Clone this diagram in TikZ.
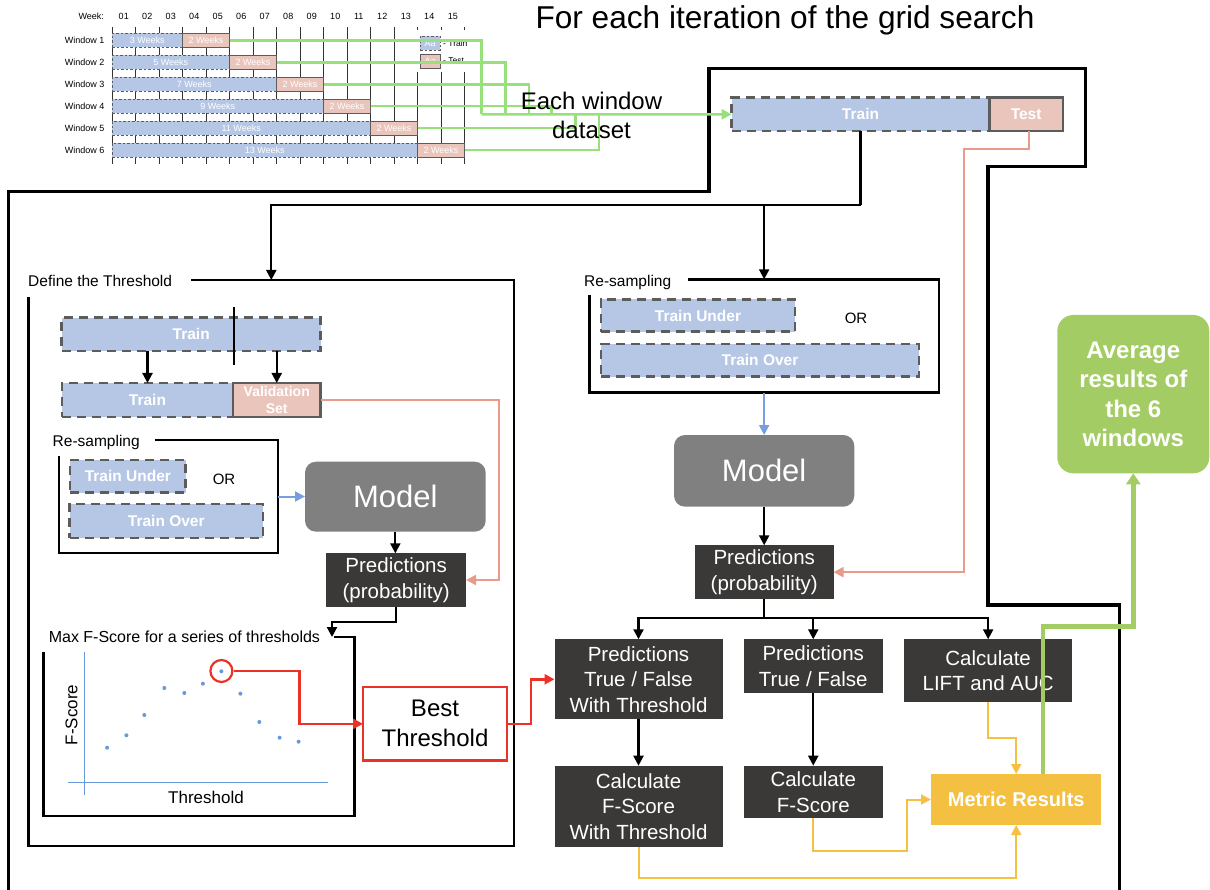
\documentclass[tikz,border=0pt]{standalone}
\usepackage{fontspec}
\setmainfont{Liberation Sans}
\usetikzlibrary{arrows.meta,calc}

\definecolor{trainblue}{RGB}{182,199,229}
\definecolor{testpink}{RGB}{234,197,188}
\definecolor{edgegray}{RGB}{92,92,92}
\definecolor{boxdark}{RGB}{59,56,56}
\definecolor{modelgray}{RGB}{128,128,128}
\definecolor{metricgold}{RGB}{244,192,66}
\definecolor{avggreen}{RGB}{163,205,100}
\definecolor{linkgreen}{RGB}{152,224,124}
\definecolor{salmonline}{RGB}{232,155,136}
\definecolor{flowblue}{RGB}{118,158,224}
\definecolor{plotblue}{RGB}{104,153,216}
\definecolor{alertred}{RGB}{234,51,38}
\definecolor{goldline}{RGB}{246,192,66}

\newcommand{\fsz}[2]{\fontsize{#1}{#2}\selectfont}

\tikzset{
  cornerbox/.style={inner sep=0pt, outer sep=0pt, anchor=north west},
  frameregion/.style={cornerbox, draw=none},
  weekbar/.style={cornerbox, line width=0.8pt, draw=edgegray, text=white, font=\fsz{9}{10}},
  trainbar/.style={weekbar, fill=trainblue, dash pattern=on 2.5pt off 2pt},
  testbar/.style={weekbar, fill=testpink},
  setbox/.style={cornerbox, line width=2.8pt, draw=edgegray, text=white, font=\bfseries\fsz{15.5}{17}, align=center},
  trainbox/.style={setbox, fill=trainblue, dash pattern=on 9pt off 6pt},
  testbox/.style={setbox, fill=testpink},
  darkstep/.style={cornerbox, fill=boxdark, text=white, font=\fsz{20.5}{25.5}, align=center},
  modelbox/.style={cornerbox, fill=modelgray, rounded corners=11pt, text=white, font=\fsz{31}{36}},
  sidelabel/.style={inner sep=0pt, anchor=base west, font=\fsz{15.5}{18}},
  plaintext/.style={inner sep=0pt},
  boxframe/.style={line width=2.6pt, line join=miter},
  headtip/.style={-{Triangle[length=10pt,width=10pt]}},
  conn/.style={line width=2.1pt, headtip},
  plainline/.style={line width=2.1pt},
  salmonarrow/.style={draw=salmonline, line width=2pt, headtip},
  bluearrow/.style={draw=flowblue, line width=2pt, headtip},
  redarrow/.style={draw=alertred, line width=2.6pt, headtip},
  goldarrow/.style={draw=goldline, line width=2pt, headtip},
  linkline/.style={draw=linkgreen, line width=2.6pt},
}

\begin{document}
\begin{tikzpicture}[x=1pt,y=-1pt]
\useasboundingbox (0,0) rectangle (1210,890);

% ---------- title ----------
\node[plaintext, font=\fsz{31.6}{36}] (title) at (785,20) {For each iteration of the grid search};

% ---------- sliding window table ----------
\node[plaintext, font=\fsz{9}{10}] (weekhead) at (91.3,16) {Week:};
\foreach \k in {1,...,15}{
  \node[plaintext, font=\fsz{9}{10}] (wk\k) at ({112+(\k-0.5)*23.5},16) {\ifnum\k<10 0\fi\k};
}
\foreach \k in {0,...,15}{
  \draw[line width=1pt, black!80] ({112+\k*23.5},27) -- ({112+\k*23.5},164);
}
\foreach \i in {1,...,6}{
  \pgfmathsetmacro{\rowtop}{33.5+(\i-1)*21.9}
  \pgfmathsetmacro{\trw}{(2*\i+1)*23.5}
  \pgfmathtruncatemacro{\nweeks}{2*\i+1}
  \node[plaintext, font=\fsz{9}{10}] (wlab\i) at (84.7,\rowtop+7) {Window \i};
  \node[trainbar, minimum width=\trw pt, minimum height=14pt] (wtr\i) at (112,\rowtop) {\nweeks\ Weeks};
  \node[testbar, minimum width=47pt, minimum height=14pt] (wts\i) at (112+\trw,\rowtop) {2 Weeks};
}

% legend
\fill[white] (413,30) rectangle (472,72);
\node[trainbar, minimum width=20pt, minimum height=14pt] (legtrain) at (420,36) {Aa};
\node[testbar, minimum width=20pt, minimum height=14pt] (legtest) at (420,54) {Aa};
\node[plaintext, anchor=west, font=\fsz{8.5}{10}] (legtrainlbl) at (443,43) {- Train};
\node[plaintext, anchor=west, font=\fsz{8.5}{10}] (legtestlbl) at (443,61) {- Test};

% ---------- outer loop frame ----------
\draw[line width=3.2pt, line join=miter] (8.5,890) -- (8.5,191.7) -- (709,191.7) -- (709,68.3)
  -- (1085.7,68.3) -- (1085.7,166.7) -- (988,166.7) -- (988,605) -- (1119.8,605) -- (1119.8,890);

% ---------- dataset of one window ----------
\node[trainbox, minimum width=257.6pt, minimum height=33.3pt] (bigtrain) at (731.7,97.7) {Train};
\node[testbox, minimum width=73.7pt, minimum height=33.3pt] (bigtest) at (989.3,97.7) {Test};

% window links
\coordinate (hub) at (481.7,114.35);
\foreach \i/\cx in {1/481.7,2/505.7,3/529,4/551.7,5/575.7,6/599}{
  \draw[linkline] (wts\i.east) -| (\cx,114.35);
}
\draw[linkline, headtip] (hub) -- (bigtrain.west);
\node[plaintext, font=\fsz{24}{29}, align=center] (eachwin) at (591.5,115) {Each window\\dataset};

% ---------- regions ----------
\node[frameregion, minimum width=485.4pt, minimum height=566pt] (defbox) at (28.6,280) {};
\draw[boxframe] ([xshift=162.4pt]defbox.north west) -- (defbox.north east) -- (defbox.south east)
  -- (defbox.south west) -- ([yshift=-16.7pt]defbox.north west);
\node[sidelabel] (deflbl) at (28,286.5) {Define the Threshold};

\node[frameregion, minimum width=219pt, minimum height=113pt] (rsL) at (59,440) {};
\draw[boxframe] ([xshift=95.6pt]rsL.north west) -- (rsL.north east) -- (rsL.south east)
  -- (rsL.south west) -- ([yshift=-16pt]rsL.north west);
\node[sidelabel] (rsLlbl) at (52.5,446.2) {Re-sampling};

\node[frameregion, minimum width=349.7pt, minimum height=113.4pt] (rsR) at (589.3,279.3) {};
\draw[boxframe] ([xshift=98.4pt]rsR.north west) -- (rsR.north east) -- (rsR.south east)
  -- (rsR.south west) -- ([yshift=-15.7pt]rsR.north west);
\node[sidelabel] (rsRlbl) at (584,286.2) {Re-sampling};

\node[frameregion, minimum width=311pt, minimum height=179pt] (fbox) at (43.6,637) {};
\draw[boxframe] ([xshift=290.4pt]fbox.north west) -- (fbox.north east) -- (fbox.south east)
  -- (fbox.south west) -- ([yshift=-14.7pt]fbox.north west);
\node[sidelabel, font=\fsz{16}{18}] (fboxlbl) at (48.6,642.5) {Max F-Score for a series of thresholds};

% ---------- threshold branch ----------
\node[trainbox, minimum width=258.9pt, minimum height=33.3pt] (trainA) at (61.8,317.7) {Train};
\node[trainbox, minimum width=171pt, minimum height=34pt] (trainB) at (62,383) {Train};
\node[testbox, font=\bfseries\fsz{14}{16.7}, minimum width=87.5pt, minimum height=34pt] (valset) at (233,383) {Validation\\Set};
\draw[line width=2.5pt] (234,306.7) -- (234,365);
\draw[conn] (trainA.south -| trainB.north) -- (trainB.north);
\draw[conn] (trainA.south -| valset.north) -- (valset.north);

\node[trainbox, minimum width=115.7pt, minimum height=32.7pt] (underL) at (70,460) {Train Under};
\node[trainbox, minimum width=193.4pt, minimum height=34pt] (overL) at (69.6,504) {Train Over};
\node[plaintext, font=\fsz{15}{18}] (orL) at (224,479) {OR};

\node[modelbox, minimum width=180.7pt, minimum height=70pt] (modelL) at (305,461.7) {Model};
\node[darkstep, minimum width=139.6pt, minimum height=53.4pt] (predL) at (326.4,553.3) {Predictions\\(probability)};

\draw[bluearrow] (rsL.east) -- (rsL.east -| modelL.west);
\draw[conn] (modelL.south) -- (modelL.south |- predL.north);
\draw[salmonarrow] (valset.east) -- ++(178,0) |- (predL.east);
\draw[conn] (predL.south) -- ++(0,15) -| ([xshift=-22.6pt]fbox.north east);

% F-score curve
\draw[plotblue, line width=1.3pt] (84.6,652) -- (84.6,795);
\draw[plotblue, line width=1.3pt] (67.9,782.7) -- (327.5,782.7);
\foreach \px/\py in {107.1/747.7,126.4/735.3,144.3/715,164.3/688,184.3/693,202.9/683.7,221.4/671.3,240.4/693.7,259.3/722,279.6/737.7,298.6/741.7}{
  \fill[plotblue] (\px,\py) circle (2pt);
}
\node[draw=alertred, circle, line width=2.2pt, inner sep=0pt, minimum size=22pt] (peak) at (221.4,671) {};
\node[plaintext, rotate=90, font=\fsz{17}{20}] (fscore) at (71.4,715) {F-Score};
\node[plaintext, font=\fsz{17}{20}] (thrlbl) at (206,797.7) {Threshold};

\node[cornerbox, draw=alertred, line width=2.6pt, font=\fsz{24}{30}, align=center, minimum width=144pt, minimum height=73.7pt] (best) at (363,687) {Best\\Threshold};
\draw[redarrow] (peak.east) -- ++(66,0) |- (best.west);

% ---------- evaluation branch ----------
\node[trainbox, minimum width=194pt, minimum height=32.4pt] (underR) at (601,299.3) {Train Under};
\node[trainbox, minimum width=318pt, minimum height=32.7pt] (overR) at (601,344) {Train Over};
\node[plaintext, font=\fsz{15}{18}] (orR) at (856,318.3) {OR};

\node[modelbox, minimum width=180.3pt, minimum height=71.7pt] (modelR) at (674,435) {Model};
\node[darkstep, minimum width=138.5pt, minimum height=53.7pt] (predR) at (695,545.3) {Predictions\\(probability)};

\node[darkstep, minimum width=168pt, minimum height=80pt] (pwt) at (554.5,639.3) {Predictions\\True / False\\With Threshold};
\node[darkstep, minimum width=138.5pt, minimum height=54pt] (ptf) at (744,639.3) {Predictions\\True / False};
\node[darkstep, minimum width=167.7pt, minimum height=62.4pt] (lift) at (904.3,639.3) {Calculate\\LIFT and AUC};
\node[darkstep, minimum width=168pt, minimum height=81pt] (cfwt) at (554.5,765.7) {Calculate\\F-Score\\With Threshold};
\node[darkstep, minimum width=138.5pt, minimum height=52.6pt] (cf) at (744,765.7) {Calculate\\F-Score};
\node[cornerbox, fill=metricgold, text=white, font=\bfseries\fsz{20}{24}, minimum width=170.4pt, minimum height=51pt] (metric) at (931,774) {Metric Results};
\node[cornerbox, fill=avggreen, rounded corners=16pt, text=white, font=\bfseries\fsz{24}{29.5}, align=center, minimum width=152pt, minimum height=158.3pt] (avg) at (1057.3,315) {Average\\results of\\the 6\\windows};

% split of the training data
\coordinate (split) at ($(bigtrain.south)+(0,74)$);
\draw[plainline] (bigtrain.south) -- (split);
\draw[conn] (split) -| (defbox.north);
\draw[conn] (split -| rsR.north) -- (rsR.north);
\draw[salmonarrow] ([xshift=3pt]bigtest.south) -- ++(0,18.3) -| ([xshift=130.5pt]predR.east) -- (predR.east);

\draw[bluearrow] (rsR.south) -- (rsR.south |- modelR.north);
\draw[conn] (modelR.south) -- (modelR.south |- predR.north);
\draw[conn] (predR.south) -- ++(0,19.3) -| (pwt.north);
\draw[conn] (predR.south) -- ++(0,19.3) -| (ptf.north);
\draw[conn] (predR.south) -- ++(0,19.3) -| (lift.north);
\draw[redarrow] (best.east) -- ++(24,0) |- (pwt.west);
\draw[conn] (pwt.south) -- (cfwt.north);
\draw[conn] (ptf.south) -- (cf.north);

\draw[goldarrow] (lift.south) -- ++(0,36) -| (metric.north);
\draw[goldarrow] (cf.south) -- ++(0,32.4) -| ([xshift=-23.6pt]metric.west) -- (metric.west);
\draw[goldarrow] (cfwt.south) -- ++(0,31.6) -| (metric.south);
\draw[draw=avggreen, line width=4.8pt, -{Triangle[length=11pt,width=14pt]}] ([xshift=26.8pt]metric.north) -- ++(0,-147.3) -| (avg.south);

\end{tikzpicture}
\end{document}
